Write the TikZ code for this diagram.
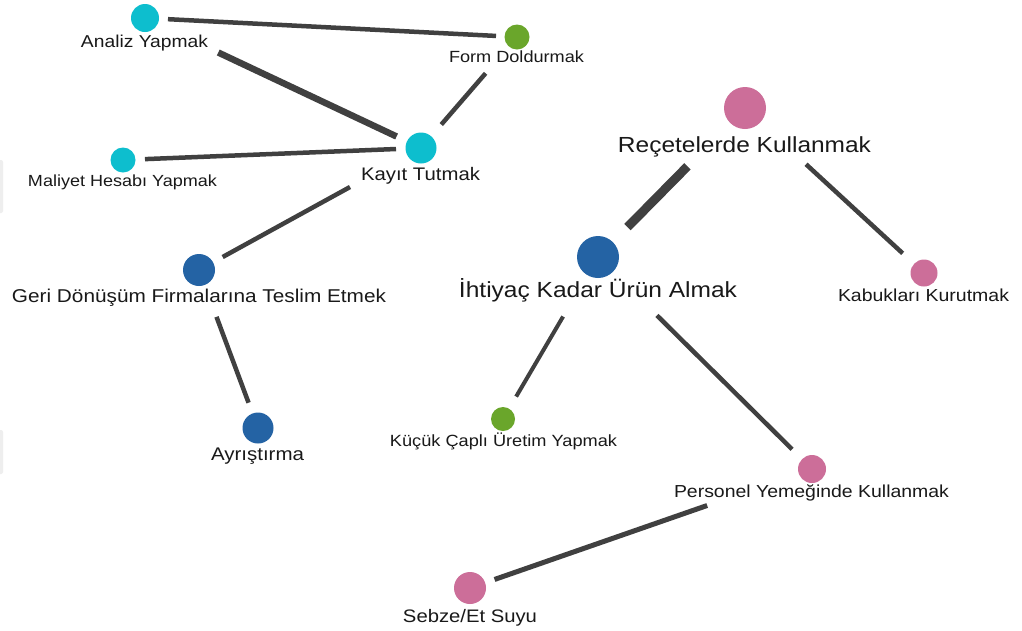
\documentclass[tikz,border=0pt]{standalone}
\usepackage{fontspec}
\setmainfont[FakeStretch=1.12]{Liberation Sans}
\usepackage{graphicx}

\definecolor{cyanc}{RGB}{13,190,206}
\definecolor{greenc}{RGB}{106,166,43}
\definecolor{bluec}{RGB}{36,99,164}
\definecolor{pinkc}{RGB}{204,110,153}
\definecolor{edgec}{RGB}{64,64,64}
\definecolor{edgeshade}{RGB}{238,238,238}

% text scaled to a fixed printed width
\newcommand\fitlabel[2]{\resizebox{#1pt}{!}{#2}}

\tikzset{
  dot/.style={circle, fill=#1, draw=none, inner sep=0pt},
  lbl/.style={anchor=base, inner sep=0pt, text=black!90},
  edge/.style={draw=edgec, line width=4.5pt}
}

\begin{document}
\begin{tikzpicture}[x=1pt, y=-1pt]
\useasboundingbox (0,0) rectangle (1022,630);
\fill[white] (0,0) rectangle (1022,630);

% faint shading along the left border
\fill[edgeshade, rounded corners=2pt] (-4,160) rectangle (3,213);
\fill[edgeshade, rounded corners=2pt] (-4,430) rectangle (3,474);

% node markers
\node[dot=cyanc, minimum size=28pt] (analiz) at (145,18) {};
\node[dot=greenc, minimum size=25pt] (form) at (517,37) {};
\node[dot=cyanc, minimum size=31pt] (kayit) at (421,148) {};
\node[dot=cyanc, minimum size=25pt] (maliyet) at (123,160) {};
\node[dot=bluec, minimum size=32pt] (geri) at (199,270) {};
\node[dot=bluec, minimum size=31pt] (ayr) at (258,428) {};
\node[dot=pinkc, minimum size=42pt] (recete) at (745,108) {};
\node[dot=bluec, minimum size=42pt] (ihtiyac) at (598,257) {};
\node[dot=pinkc, minimum size=27pt] (kabuk) at (924,273) {};
\node[dot=greenc, minimum size=24pt] (kucuk) at (503,419) {};
\node[dot=pinkc, minimum size=28pt] (personel) at (812,469) {};
\node[dot=pinkc, minimum size=32pt] (sebze) at (470,588) {};

% labels
\node[lbl] (analizL) at (144.5,47) {\fitlabel{127}{Analiz Yapmak}};
\node[lbl] (formL) at (516.5,62) {\fitlabel{135}{Form Doldurmak}};
\node[lbl] (kayitL) at (420.5,180) {\fitlabel{119}{Kayıt Tutmak}};
\node[lbl] (maliyetL) at (122.5,186) {\fitlabel{189}{Maliyet Hesabı Yapmak}};
\node[lbl] (geriL) at (199,302) {\fitlabel{374}{Geri Dönüşüm Firmalarına Teslim Etmek}};
\node[lbl] (ayrL) at (257.5,460) {\fitlabel{93}{Ayrıştırma}};
\node[lbl] (receteL) at (744.5,152) {\fitlabel{253}{Reçetelerde Kullanmak}};
\node[lbl] (ihtiyacL) at (598,297) {\fitlabel{278}{İhtiyaç Kadar Ürün Almak}};
\node[lbl] (kabukL) at (923.5,301) {\fitlabel{171}{Kabukları Kurutmak}};
\node[lbl] (kucukL) at (503.5,446) {\fitlabel{227}{Küçük Çaplı Üretim Yapmak}};
\node[lbl] (personelL) at (811.5,497) {\fitlabel{275}{Personel Yemeğinde Kullanmak}};
\node[lbl] (sebzeL) at (470,622) {\fitlabel{134}{Sebze/Et Suyu}};

% connectors
\draw[edge, shorten <=23pt, shorten >=21pt] (analiz.center) -- (form.center);
\draw[edge, line width=6.5pt, shorten <=81pt, shorten >=27pt] (analiz.center) -- (kayit.center);
\draw[edge, shorten <=48pt, shorten >=31pt] (form.center) -- (kayit.center);
\draw[edge, shorten <=22pt, shorten >=25pt] (maliyet.center) -- (kayit.center);
\draw[edge, shorten <=81pt, shorten >=27pt] (kayit.center) -- (geri.center);
\draw[edge, shorten <=50pt, shorten >=27pt] (geri.center) -- (ayr.center);
\draw[edge, line width=9pt, shorten <=82pt, shorten >=42pt] (recete.center) -- (ihtiyac.center);
\draw[edge, shorten <=83pt, shorten >=29pt] (recete.center) -- (kabuk.center);
\draw[edge, line width=4pt, shorten <=69pt, shorten >=26pt] (ihtiyac.center) -- (kucuk.center);
\draw[edge, shorten <=83pt, shorten >=28pt] (ihtiyac.center) -- (personel.center);
\draw[edge, line width=5pt, shorten <=111pt, shorten >=26pt] (personel.center) -- (sebze.center);
\end{tikzpicture}
\end{document}
